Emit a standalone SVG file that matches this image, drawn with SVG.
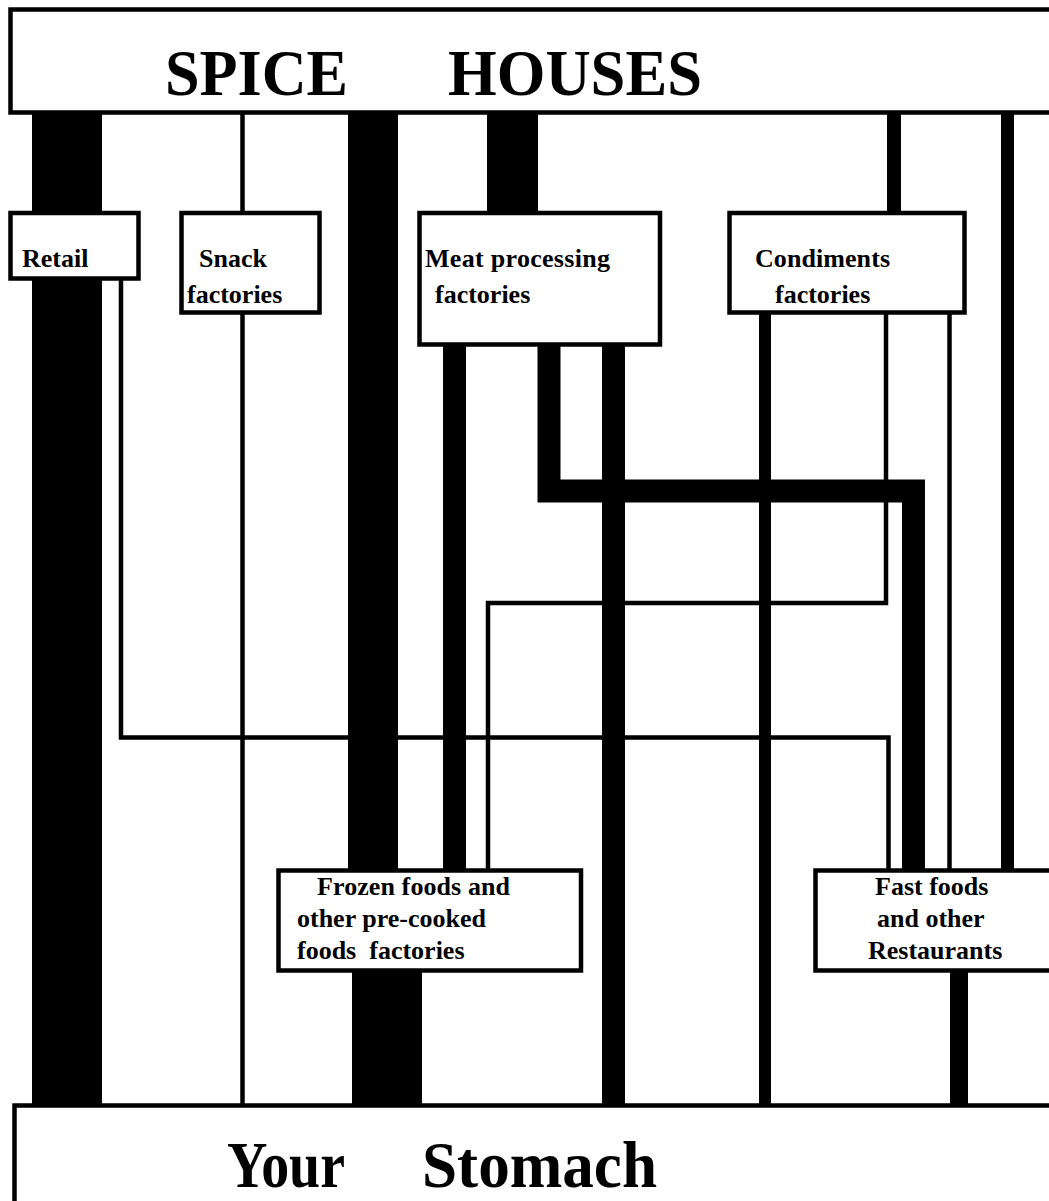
<svg xmlns="http://www.w3.org/2000/svg" width="1049" height="1201" viewBox="0 0 1049 1201">
<style>
.box{fill:#fff;stroke:#000;stroke-width:4.5}
.lbl{font-family:"Liberation Serif","Times New Roman",serif;font-weight:bold;font-size:26px;fill:#000}
.big{font-family:"Liberation Serif","Times New Roman",serif;font-weight:bold;font-size:66px;fill:#000}
.ln{fill:none;stroke:#000;stroke-linejoin:miter;stroke-linecap:butt}
</style>
<rect width="1049" height="1201" fill="#fff"/>
<g id="connectors">
<rect x="32" y="112" width="70" height="994" fill="#000"/>
<rect x="348" y="112" width="50" height="758" fill="#000"/>
<rect x="352" y="970" width="70" height="136" fill="#000"/>
<rect x="487" y="112" width="51" height="100" fill="#000"/>
<rect x="887" y="112" width="14" height="100" fill="#000"/>
<rect x="1001" y="112" width="13" height="758" fill="#000"/>
<rect x="443" y="344" width="23" height="526" fill="#000"/>
<rect x="602" y="344" width="23" height="762" fill="#000"/>
<rect x="759" y="312" width="12" height="794" fill="#000"/>
<rect x="950" y="970" width="18" height="136" fill="#000"/>
<line class="ln" x1="242.5" y1="112" x2="242.5" y2="1106" stroke-width="4.5"/>
<line class="ln" x1="949.5" y1="312" x2="949.5" y2="870" stroke-width="4.5"/>
<polyline class="ln" points="549,344 549,491 913.5,491 913.5,870" stroke-width="23"/>
<polyline class="ln" points="121,278 121,737.5 888.5,737.5 888.5,870" stroke-width="4.5"/>
<polyline class="ln" points="886,312 886,603 488,603 488,870" stroke-width="4.5"/>
</g>
<g id="spice-houses">
<rect class="box" x="10.5" y="9.5" width="1060" height="103"/>
<text class="big" x="165" y="95" textLength="183" lengthAdjust="spacingAndGlyphs">SPICE</text>
<text class="big" x="448" y="95" textLength="254" lengthAdjust="spacingAndGlyphs">HOUSES</text>
</g>
<g id="retail">
<rect class="box" x="10.5" y="213" width="128" height="65.5"/>
<text class="lbl" x="22" y="267">Retail</text>
</g>
<g id="snack">
<rect class="box" x="181.5" y="213" width="138" height="99.5"/>
<text class="lbl" x="199" y="267">Snack</text>
<text class="lbl" x="187" y="303">factories</text>
</g>
<g id="meat">
<rect class="box" x="419.5" y="213" width="240.5" height="131.5"/>
<text class="lbl" x="425" y="267" textLength="185" lengthAdjust="spacing">Meat processing</text>
<text class="lbl" x="435" y="303">factories</text>
</g>
<g id="condiments">
<rect class="box" x="729.5" y="213" width="235" height="99.5"/>
<text class="lbl" x="755" y="267" textLength="135" lengthAdjust="spacing">Condiments</text>
<text class="lbl" x="775" y="303">factories</text>
</g>
<g id="frozen">
<rect class="box" x="278.5" y="870.5" width="302.5" height="100"/>
<text class="lbl" x="317" y="895" textLength="193" lengthAdjust="spacing">Frozen foods and</text>
<text class="lbl" x="297" y="927">other pre-cooked</text>
<text class="lbl" x="297" y="959" xml:space="preserve">foods  factories</text>
</g>
<g id="fastfoods">
<rect class="box" x="815.5" y="870.5" width="260" height="100"/>
<text class="lbl" x="875" y="895">Fast foods</text>
<text class="lbl" x="877" y="927">and other</text>
<text class="lbl" x="868" y="959">Restaurants</text>
</g>
<g id="stomach">
<rect class="box" x="14.5" y="1105.5" width="1050" height="120" stroke-width="5"/>
<text class="big" x="227" y="1187" textLength="118" lengthAdjust="spacingAndGlyphs">Your</text>
<text class="big" x="422" y="1187" textLength="235" lengthAdjust="spacingAndGlyphs">Stomach</text>
</g>
</svg>
